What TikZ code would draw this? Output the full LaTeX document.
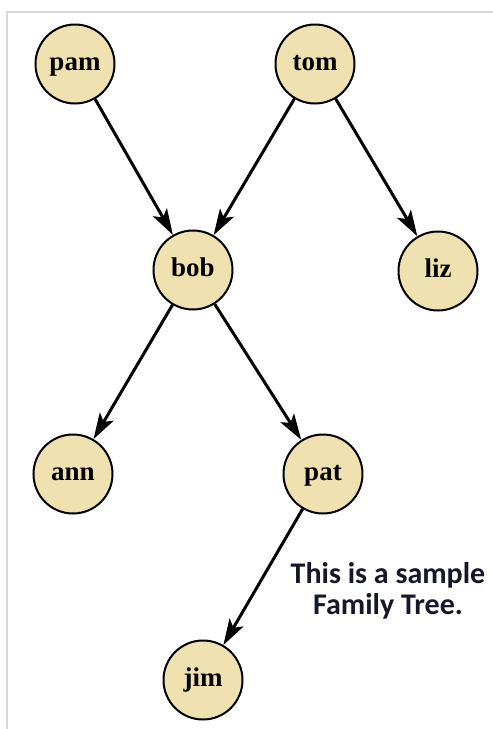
\documentclass[tikz,border=0pt]{standalone}
\usepackage{fontspec}
\setmainfont{Liberation Serif}
\newfontfamily\notefont{Carlito}
\usetikzlibrary{arrows.meta}
\definecolor{nodefill}{HTML}{EFE2B0}
\definecolor{framegray}{HTML}{D9D9D9}
\definecolor{notecol}{HTML}{16182A}
\begin{document}
\begin{tikzpicture}[x=1pt,y=-1pt,
  person/.style={circle, draw=black, line width=2pt, fill=nodefill, minimum size=79pt, inner sep=0pt, text height=12.5pt, text depth=0pt, font=\fontsize{27}{27}\selectfont\bfseries},
  link/.style={-{Stealth[length=26pt,width=16pt,inset=6pt]}, line width=3pt}]
\path[use as bounding box] (0,0) rectangle (493,729);
\draw[framegray, line width=1.5pt] (7,729) -- (7,12) -- (493,12);
\node[person] (pam) at (75,64) {pam};
\node[person] (tom) at (315,64) {tom};
\node[person] (bob) at (193,270) {bob};
\node[person] (liz) at (438,271) {liz};
\node[person] (ann) at (73,474) {ann};
\node[person] (pat) at (323,474) {pat};
\node[person] (jim) at (203,680) {jim};
\draw[link] (pam) -- (bob);
\draw[link] (tom) -- (bob);
\draw[link] (tom) -- (liz);
\draw[link] (bob) -- (ann);
\draw[link] (bob) -- (pat);
\draw[link] (pat) -- (jim);
\node[align=center, text=notecol, font=\notefont\fontsize{30}{31}\selectfont\bfseries] (note) at (388,591) {This is a sample\\Family Tree.};
\end{tikzpicture}
\end{document}
